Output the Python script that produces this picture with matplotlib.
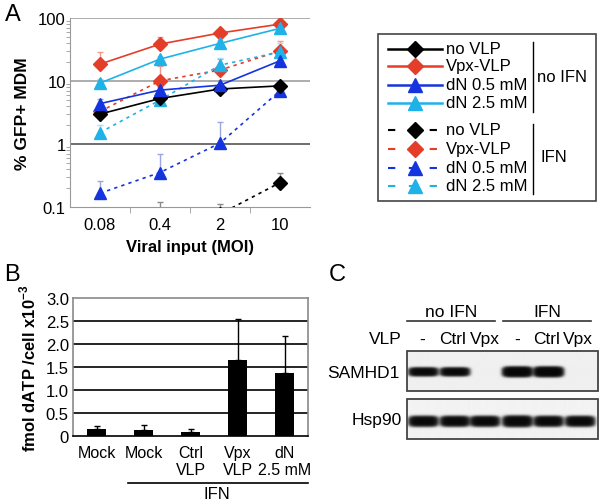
"""
MDM infection (A), dATP levels (B) and SAMHD1 blot (C)
"""

import numpy as np
import matplotlib
matplotlib.use('Agg')
from matplotlib import pyplot as plt
from matplotlib.patches import Rectangle

plt.rcParams['font.family'] = ['Liberation Sans', 'DejaVu Sans']
plt.rcParams['mathtext.fontset'] = 'custom'
plt.rcParams['mathtext.bf'] = 'Liberation Sans:bold'
plt.rcParams['mathtext.rm'] = 'Liberation Sans'

# ---- panel A data: % GFP+ MDM vs MOI
moi_labels = ['0.08', '0.4', '2', '10']
noifn_novlp = [3.0, 5.3, 7.5, 8.4]
noifn_vpx = [18.6, 38.6, 57.8, 80.0]
noifn_dn05 = [4.4, 7.2, 8.6, 21.0]
noifn_dn25 = [9.3, 22.3, 39.6, 68.6]
ifn_novlp = [0.04, 0.05, 0.078, 0.246]
ifn_vpx = [3.3, 10.1, 15.0, 30.0]
ifn_dn05 = [0.167, 0.356, 1.04, 7.0]
ifn_dn25 = [1.53, 5.0, 17.9, 29.0]
# upper error (added to the value)
err_noifn_novlp = [0.4, 0.6, 0.8, 1.0]
err_noifn_vpx = [10.4, 11.4, 5.0, 6.0]
err_noifn_dn05 = [0.8, 1.0, 1.6, 9.0]
err_noifn_dn25 = [1.5, 3.0, 6.0, 7.0]
err_ifn_novlp = [0.02, 0.07, 0.033, 0.104]
err_ifn_vpx = [0.8, 7.0, 7.0, 13.0]
err_ifn_dn05 = [0.093, 0.354, 1.22, 2.0]
err_ifn_dn25 = [0.5, 1.0, 5.0, 11.0]

# ---- panel B data: fmol dATP / cell x10^-3
b_labels = ['Mock', 'Mock', 'Ctrl\nVLP', 'Vpx\nVLP', 'dN\n2.5 mM']
b_values = [0.14, 0.13, 0.08, 1.645, 1.36]
b_err = [0.08, 0.11, 0.07, 0.905, 0.81]
b_ticks = [0, 0.5, 1.0, 1.5, 2.0, 2.5, 3.0]
b_ticklabels = ['0', '0.5', '1.0', '1.5', '2.0', '2.5', '3.0']

# ---- panel C data: band intensity per lane
c_lanes = ['-', 'Ctrl', 'Vpx', '-', 'Ctrl', 'Vpx']
samhd1_band = [1.0, 1.0, 0.0, 1.3, 1.3, 0.0]
hsp90_band = [1.0, 1.0, 1.0, 1.1, 1.0, 1.0]

RED = '#e43d29'
BLUE = '#1434e0'
CYAN = '#1fb2e8'

series = [
    # values, errors, colour, light colour, marker, size, dashed
    (ifn_novlp, err_ifn_novlp, 'black', '#8a8a8a', 'D', 7, True),
    (ifn_vpx, err_ifn_vpx, RED, '#f09a90', 'D', 7, True),
    (ifn_dn05, err_ifn_dn05, BLUE, '#9aa6e6', '^', 9, True),
    (ifn_dn25, err_ifn_dn25, CYAN, '#a6dcf2', '^', 9, True),
    (noifn_novlp, err_noifn_novlp, 'black', '#8a8a8a', 'D', 7, False),
    (noifn_vpx, err_noifn_vpx, RED, '#f09a90', 'D', 7, False),
    (noifn_dn05, err_noifn_dn05, BLUE, '#9aa6e6', '^', 9, False),
    (noifn_dn25, err_noifn_dn25, CYAN, '#a6dcf2', '^', 9, False),
]

W, H = 600, 502
fig = plt.figure(figsize=(6, 5.02), dpi=100)


def frac(x0, y0, x1, y1):
    return [x0 / W, 1 - y1 / H, (x1 - x0) / W, (y1 - y0) / H]


# ================= A =================
ax = fig.add_axes(frac(70, 19, 310, 208.3))
x = np.arange(len(moi_labels))
for vals, errs, col, light, mk, ms, dashed in series:
    ax.errorbar(x, vals, yerr=[np.zeros(len(vals)), errs], fmt='none',
                ecolor=light, elinewidth=1, capsize=2, capthick=1, zorder=2)
for vals, errs, col, light, mk, ms, dashed in series:
    ax.plot(x, vals, color=col, lw=1.2,
            linestyle=(0, (2, 2.5)) if dashed else '-',
            marker=mk, markersize=ms, markerfacecolor=col,
            markeredgecolor='black' if col == 'black' else col, zorder=3)
ax.set_yscale('log')
ax.set_ylim(0.1, 100)
ax.set_xlim(-0.5, 3.5)
ax.set_yticks([0.1, 1, 10, 100])
ax.set_yticklabels(['0.1', '1', '10', '100'])
ax.set_xticks(x)
ax.set_xticklabels(moi_labels)
ax.set_xticks([0.5, 1.5, 2.5], minor=True)
ax.tick_params(axis='x', which='major', length=0, labelsize=12, pad=7)
ax.tick_params(axis='x', which='minor', length=4, color='#999999')
ax.tick_params(axis='y', which='major', length=0, labelsize=12, pad=3)
ax.tick_params(axis='y', which='minor', length=3, color='#999999')
ax.yaxis.set_minor_formatter(matplotlib.ticker.NullFormatter())
for v, c in [(10, '#a0a0a0'), (100, '#a0a0a0'), (1, '#555555')]:
    ax.axhline(v, color=c, lw=1.2, zorder=1)
for s in ['top', 'right']:
    ax.spines[s].set_visible(False)
ax.spines['left'].set_color('#999999')
ax.spines['bottom'].set_color('#999999')
ax.set_xlabel('Viral input (MOI)', fontsize=12, fontweight='bold', labelpad=5)
ax.set_ylabel('% GFP+ MDM', fontsize=12.5, fontweight='bold', labelpad=6)

# ================= B =================
bx = fig.add_axes(frac(73, 299, 308, 436.7))
xb = np.arange(len(b_values))
for v in b_ticks[1:-1]:
    bx.axhline(v, color='black', lw=1.2, zorder=1)
bx.bar(xb, b_values, width=0.42, color='black', zorder=3)
bx.errorbar(xb, b_values, yerr=[np.zeros(len(b_err)), b_err], fmt='none',
            ecolor='black', elinewidth=1, capsize=2.5, capthick=1, zorder=3)
bx.set_xlim(-0.5, 4.5)
bx.set_ylim(0, 3.0)
bx.set_yticks(b_ticks)
bx.set_yticklabels(b_ticklabels)
bx.set_xticks(xb)
bx.set_xticklabels(b_labels, linespacing=1.15)
bx.tick_params(axis='x', length=0, labelsize=11.5, pad=7)
bx.tick_params(axis='y', length=0, labelsize=12, pad=3)
for s in ['top', 'right', 'left']:
    bx.spines[s].set_color('#8a8a8a')
    bx.spines[s].set_linewidth(1.2)
bx.spines['bottom'].set_linewidth(1.2)
bx.set_ylabel(r'fmol dATP /cell x10$^{\mathbf{-3}}$', fontsize=12,
              fontweight='bold', labelpad=5)

# ================= overlay: legend, panel C, labels =================
ov = fig.add_axes([0, 0, 1, 1])
ov.set_xlim(0, W)
ov.set_ylim(H, 0)
ov.axis('off')

ov.text(13, 15, 'A', fontsize=17, ha='center', va='center')
ov.text(12, 275, 'B', fontsize=17, ha='center', va='center')
ov.text(337, 275, 'C', fontsize=17, ha='center', va='center')

# legend
ov.add_patch(Rectangle((378.3, 34.7), 217.7, 167, fill=False,
                       edgecolor='#444444', lw=1.2))
names = ['no VLP', 'Vpx-VLP', 'dN 0.5 mM', 'dN 2.5 mM']
rows_solid = [50, 67, 86, 104]
rows_dash = [131, 150, 169, 187]
leg = series[4:] + series[:4]
for i, (vals, errs, col, light, mk, ms, dashed) in enumerate(leg):
    yy = (rows_dash if dashed else rows_solid)[i % 4]
    ov.plot([388, 442], [yy, yy], color=col, lw=1.8 if not dashed else 1.5,
            linestyle=(0, (3.5, 6.5)) if dashed else '-')
    ov.plot([415], [yy], marker=mk, markersize=ms + 1, color=col,
            markeredgecolor='black' if col == 'black' else col)
    ov.text(446, yy, names[i % 4], fontsize=12, va='center', ha='left')
ov.plot([533, 533], [43, 113], color='black', lw=1)
ov.plot([533, 533], [125, 195], color='black', lw=1)
ov.text(537, 78, 'no IFN', fontsize=12, va='center', ha='left')
ov.text(540, 158, 'IFN', fontsize=12, va='center', ha='left')

# IFN bracket under panel B
ov.plot([128, 308], [484, 484], color='black', lw=1.2)
ov.text(217, 495, 'IFN', fontsize=12, ha='center', va='center')

# panel C headers
ov.text(451, 313, 'no IFN', fontsize=12.5, ha='center', va='center')
ov.plot([407, 495], [321.7, 321.7], color='#333333', lw=1.2)
ov.text(547, 313, 'IFN', fontsize=12.5, ha='center', va='center')
ov.plot([503, 591], [321.7, 321.7], color='#333333', lw=1.2)
ov.text(385, 340, 'VLP', fontsize=12.5, ha='center', va='center')
lane_x = [423, 454.5, 484.5, 517, 548, 579.5]
label_x = [422, 453, 485, 517, 547, 578]
for lx, lab in zip(label_x, c_lanes):
    ov.text(lx, 340, lab, fontsize=12.5, ha='center', va='center')
ov.text(400, 373.3, 'SAMHD1', fontsize=12.5, ha='right', va='center')
ov.text(401.7, 420.7, 'Hsp90', fontsize=12.5, ha='right', va='center')


def blot(x0, x1, y0, y1, band_y, intens, half_h, bg):
    n_x = int((x1 - x0) * 4)
    n_y = int((y1 - y0) * 4)
    gx = np.linspace(x0, x1, n_x)
    gy = np.linspace(y0, y1, n_y)
    XX, YY = np.meshgrid(gx, gy)
    dens = np.zeros_like(XX)
    for lx, it in zip(lane_x, intens):
        if it <= 0:
            continue
        hh = half_h * (1 + 0.15 * (it - 1) / 0.3) if it > 1 else half_h
        dens += it * np.exp(-(np.abs(XX - lx) / 13.5) ** 5) * \
            np.exp(-(np.abs(YY - band_y) / hh) ** 3)
    img = bg - (bg - 0.02) * (1 - np.exp(-4 * dens))
    ov.imshow(img, cmap='gray', vmin=0, vmax=1, extent=[x0, x1, y1, y0],
              aspect='auto', interpolation='bilinear', zorder=1)
    ov.add_patch(Rectangle((x0, y0), x1 - x0, y1 - y0, fill=False,
                           edgecolor='#444444', lw=1.3, zorder=2))


blot(406.7, 598.3, 351.7, 392.3, 373.3, samhd1_band, 3.8, 0.94)
blot(406.7, 598.3, 400, 440, 422.3, hsp90_band, 4.6, 0.95)
ov.set_xlim(0, W)
ov.set_ylim(H, 0)

fig.savefig('out.png', dpi=100)
